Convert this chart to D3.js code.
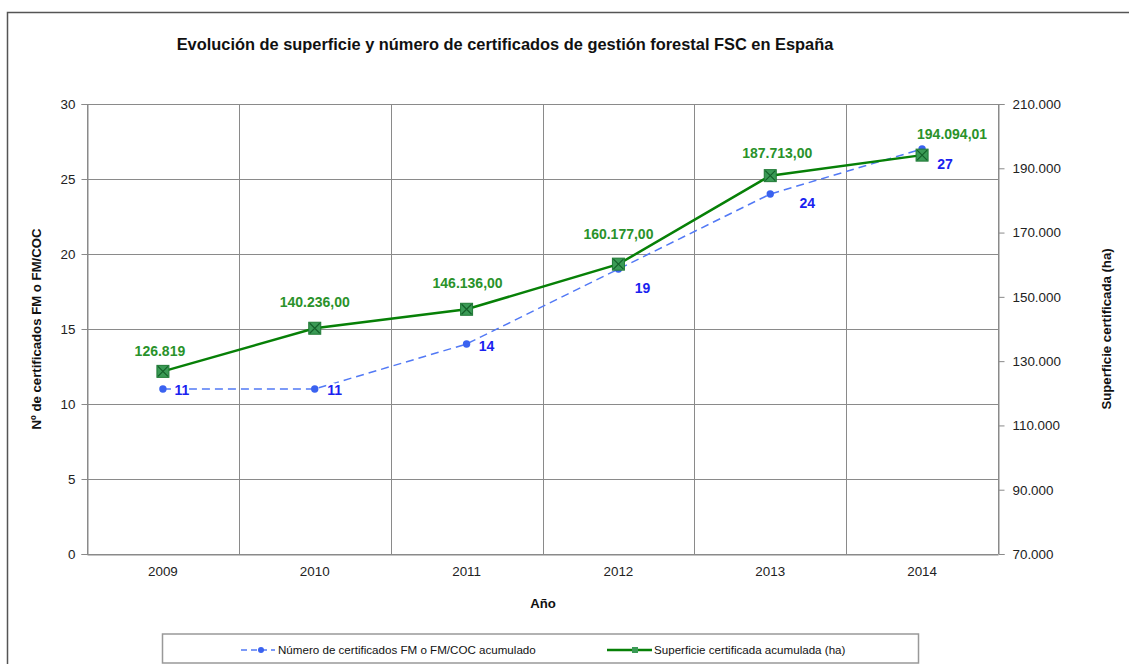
<!DOCTYPE html>
<html>
<head>
<meta charset="utf-8">
<script src="https://cdn.jsdelivr.net/npm/d3@7"></script>
<style>
  body { margin: 0; background: #fff; }
  svg { font-family: "Liberation Sans", Arial, sans-serif; }
</style>
</head>
<body>
<script>
// data
const years = ['2009', '2010', '2011', '2012', '2013', '2014'];
const numCertificados = [11, 11, 14, 19, 24, 27];
const superficie = [126819, 140236, 146136, 160177, 187713, 194094.01];
const superficieLabels = ['126.819', '140.236,00', '146.136,00', '160.177,00', '187.713,00', '194.094,01'];
const leftTicks = [0, 5, 10, 15, 20, 25, 30];
const rightTicks = [70000, 90000, 110000, 130000, 150000, 170000, 190000, 210000];

const W = 1129, H = 664;
const margin = { top: 104, right: 131, bottom: 110, left: 87 };

const svg = d3.select('body').append('svg')
    .attr('width', W)
    .attr('height', H);

// outer frame (only top + left visible in the crop)
svg.append('path')
    .attr('d', `M7.5,${H} V12.5 H${W}`)
    .attr('fill', 'none')
    .attr('stroke', '#555')
    .attr('stroke-width', 1.5);

const x = d3.scaleBand()
    .domain(years)
    .range([margin.left, W - margin.right]);

const yL = d3.scaleLinear()
    .domain([0, 30])
    .range([H - margin.bottom, margin.top]);

const yR = d3.scaleLinear()
    .domain([70000, 210000])
    .range([H - margin.bottom, margin.top]);

const cx = d => x(d) + x.bandwidth() / 2;
const fmtThousands = d3.formatLocale({ decimal: ',', thousands: '.', grouping: [3] }).format(',');

// grid
const grid = svg.append('g').attr('stroke', '#8a8a8a').attr('stroke-width', 1);
leftTicks.forEach(t => {
    grid.append('line')
        .attr('x1', margin.left).attr('x2', W - margin.right)
        .attr('y1', Math.round(yL(t)) + 0.5).attr('y2', Math.round(yL(t)) + 0.5);
});
years.concat(['end']).forEach((yr, i) => {
    const xx = i < years.length ? x(yr) : W - margin.right;
    grid.append('line')
        .attr('x1', Math.round(xx) + 0.5).attr('x2', Math.round(xx) + 0.5)
        .attr('y1', margin.top).attr('y2', H - margin.bottom);
});

// axes
const axL = svg.append('g')
    .attr('transform', `translate(${margin.left + 0.5},0)`)
    .call(d3.axisLeft(yL).tickValues(leftTicks).tickSize(6).tickPadding(6));
const axR = svg.append('g')
    .attr('transform', `translate(${W - margin.right + 0.5},0)`)
    .call(d3.axisRight(yR).tickValues(rightTicks).tickSize(6).tickPadding(8).tickFormat(fmtThousands));
const axB = svg.append('g')
    .attr('transform', `translate(0,${H - margin.bottom + 0.5})`)
    .call(d3.axisBottom(x).tickSize(0).tickPadding(12));

[axL, axR, axB].forEach(a => {
    a.select('.domain').attr('stroke', '#8a8a8a');
    a.selectAll('.tick line').attr('stroke', '#8a8a8a');
    a.selectAll('.tick text').attr('font-size', 13.4).attr('fill', '#222')
        .attr('font-family', '"Liberation Sans", Arial, sans-serif');
});

// titles
svg.append('text')
    .attr('x', 505).attr('y', 50)
    .attr('text-anchor', 'middle')
    .attr('font-size', 16.4).attr('font-weight', 'bold').attr('fill', '#111')
    .text('Evolución de superficie y número de certificados de gestión forestal FSC en España');

svg.append('text')
    .attr('transform', `translate(41,${(margin.top + H - margin.bottom) / 2}) rotate(-90)`)
    .attr('text-anchor', 'middle')
    .attr('font-size', 13.2).attr('font-weight', 'bold').attr('fill', '#111')
    .text('Nº de certificados FM o FM/COC');

svg.append('text')
    .attr('transform', `translate(1111,${(margin.top + H - margin.bottom) / 2}) rotate(-90)`)
    .attr('text-anchor', 'middle')
    .attr('font-size', 13.2).attr('font-weight', 'bold').attr('fill', '#111')
    .text('Superficie certificada (ha)');

svg.append('text')
    .attr('x', 543).attr('y', 608)
    .attr('text-anchor', 'middle')
    .attr('font-size', 13.2).attr('font-weight', 'bold').attr('fill', '#111')
    .text('Año');

// series: número de certificados (dashed blue)
const blue = '#5279f5';
const lineL = d3.line().x((d, i) => cx(years[i])).y(d => yL(d));
svg.append('path')
    .datum(numCertificados)
    .attr('d', lineL)
    .attr('fill', 'none')
    .attr('stroke', blue)
    .attr('stroke-width', 1.5)
    .attr('stroke-dasharray', '8,5');

// series: superficie (green)
const green = '#078007';
const lineR = d3.line().x((d, i) => cx(years[i])).y(d => yR(d));
svg.append('path')
    .datum(superficie)
    .attr('d', lineR)
    .attr('fill', 'none')
    .attr('stroke', green)
    .attr('stroke-width', 2.5);

svg.append('g').selectAll('circle')
    .data(numCertificados)
    .join('circle')
    .attr('cx', (d, i) => cx(years[i]))
    .attr('cy', d => yL(d))
    .attr('r', 3.7)
    .attr('fill', '#3a62f0');

const sq = svg.append('g').selectAll('g')
    .data(superficie)
    .join('g')
    .attr('transform', (d, i) => `translate(${cx(years[i])},${yR(d)})`);
sq.append('rect')
    .attr('x', -6).attr('y', -6).attr('width', 12).attr('height', 12)
    .attr('fill', '#3a9a55').attr('stroke', '#1f7a35').attr('stroke-width', 1);
sq.append('path')
    .attr('d', 'M-5,-5L5,5M5,-5L-5,5')
    .attr('stroke', '#14602a').attr('stroke-width', 1.2);

// data labels (white halo so the dashed line doesn't run through them)
const blueOff = [[19, 6], [20, 6], [20, 7], [24, 24], [37, 14], [23, 20]];
svg.append('g').selectAll('text')
    .data(numCertificados)
    .join('text')
    .attr('x', (d, i) => cx(years[i]) + blueOff[i][0])
    .attr('y', (d, i) => yL(d) + blueOff[i][1])
    .attr('text-anchor', 'middle')
    .attr('font-size', 14).attr('font-weight', 'bold').attr('fill', '#1a22f0')
    .attr('stroke', '#fff').attr('stroke-width', 4).attr('paint-order', 'stroke')
    .text(d => d);

const greenOff = [[-3, -15], [0, -21], [1, -21], [0, -25], [7, -18], [30, -16]];
svg.append('g').selectAll('text')
    .data(superficieLabels)
    .join('text')
    .attr('x', (d, i) => cx(years[i]) + greenOff[i][0])
    .attr('y', (d, i) => yR(superficie[i]) + greenOff[i][1])
    .attr('text-anchor', 'middle')
    .attr('font-size', 14).attr('font-weight', 'bold').attr('fill', '#2a922a')
    .text(d => d);

// legend
const lg = svg.append('g');
lg.append('rect')
    .attr('x', 162.5).attr('y', 634).attr('width', 756).attr('height', 29)
    .attr('fill', '#fff').attr('stroke', '#999').attr('stroke-width', 1.5);
lg.append('line')
    .attr('x1', 241).attr('x2', 275).attr('y1', 650).attr('y2', 650)
    .attr('stroke', blue).attr('stroke-width', 1.5).attr('stroke-dasharray', '6,4');
lg.append('circle').attr('cx', 261).attr('cy', 650).attr('r', 3).attr('fill', '#3a62f0');
lg.append('text').attr('x', 278).attr('y', 654)
    .attr('font-size', 11.6).attr('fill', '#111')
    .text('Número de certificados FM o FM/COC acumulado');
lg.append('line')
    .attr('x1', 607).attr('x2', 652).attr('y1', 650).attr('y2', 650)
    .attr('stroke', green).attr('stroke-width', 2.5);
lg.append('rect').attr('x', 632).attr('y', 647).attr('width', 6).attr('height', 6).attr('fill', '#3a9a55');
lg.append('text').attr('x', 654).attr('y', 654)
    .attr('font-size', 11.6).attr('fill', '#111')
    .text('Superficie certificada acumulada (ha)');
</script>
</body>
</html>
